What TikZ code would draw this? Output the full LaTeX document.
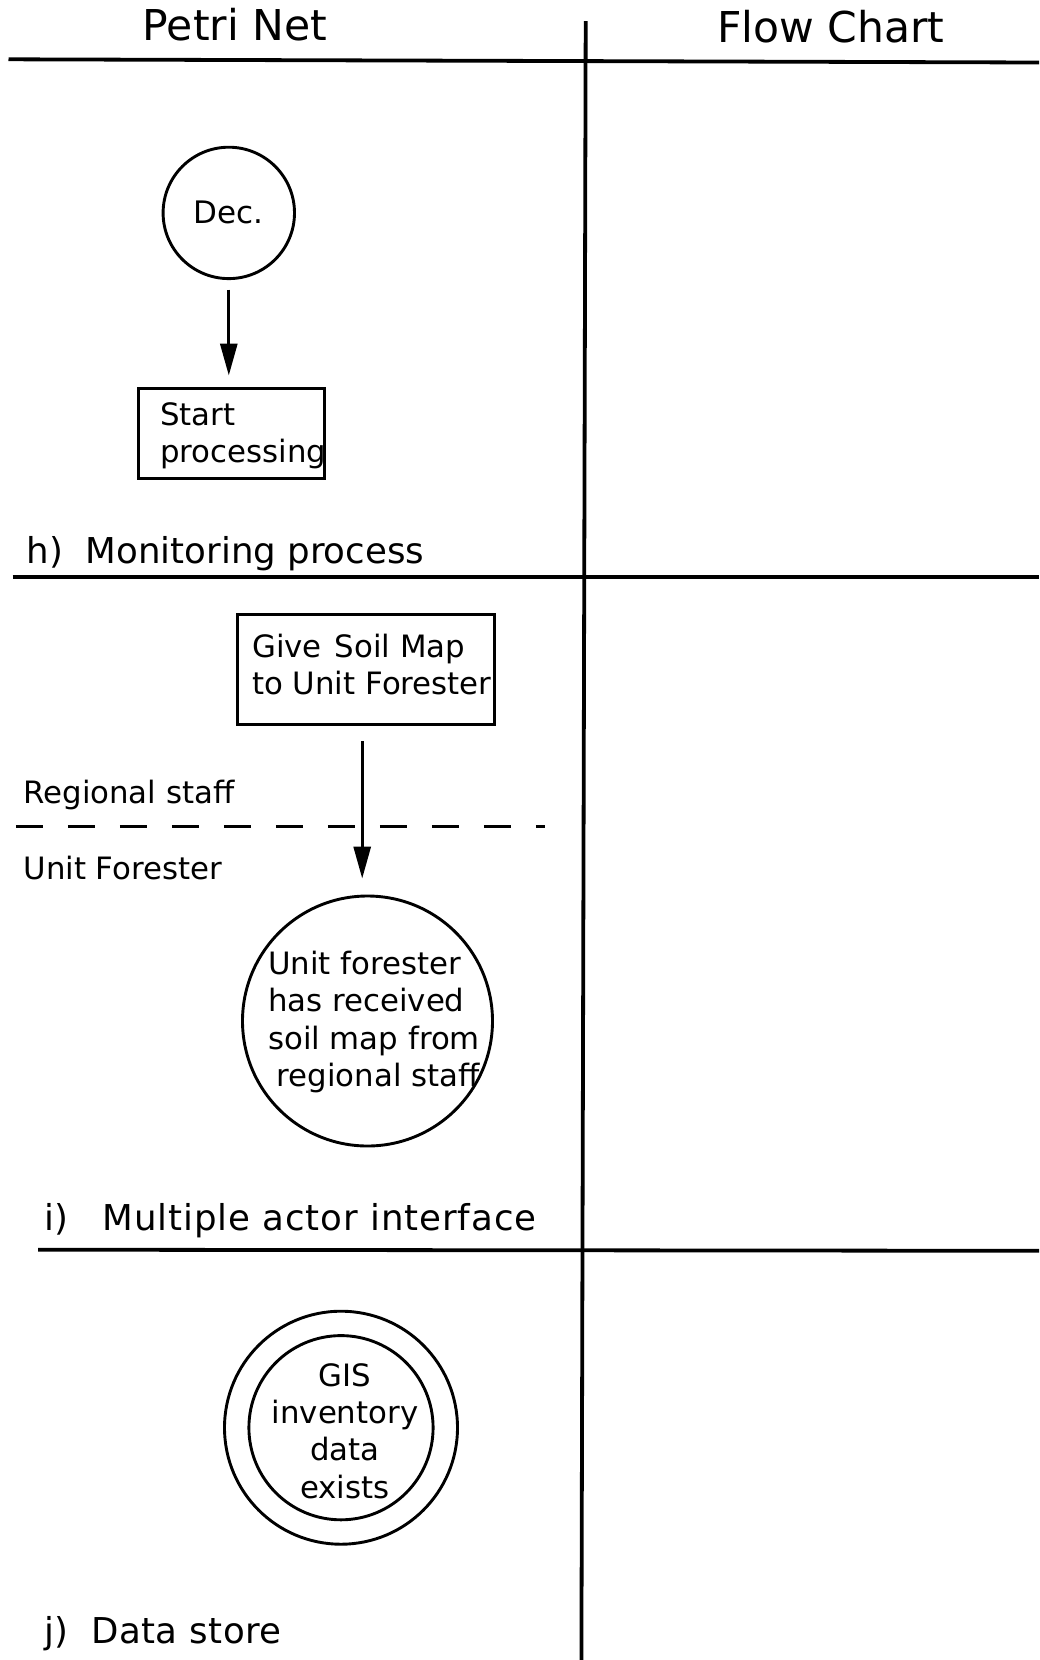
\documentclass[tikz,border=0pt]{standalone}
\usepackage{fontspec}
\setmainfont{DejaVu Sans}
\usetikzlibrary{arrows.meta}
\begin{document}
\begin{tikzpicture}[x=1pt,y=-1pt,
  rule/.style={line width=3.8pt},
  place/.style={circle, draw, line width=2.9pt, inner sep=0pt},
  transition/.style={draw, line width=3.2pt, inner sep=0pt},
  flow/.style={line width=3pt, -{Triangle[length=32pt,width=17pt]}},
  heading/.style={font=\fontsize{42.5}{50}\selectfont, inner sep=0pt, anchor=base},
  caption/.style={font=\fontsize{35.6}{42}\selectfont, inner sep=0pt, anchor=base west},
  label/.style={font=\fontsize{30.8}{37.4}\selectfont, inner sep=0pt, align=left, anchor=west},
  swimlane/.style={line width=3pt, dash pattern=on 27pt off 25pt},
]
\useasboundingbox (0,0) rectangle (1039,1660);

% column frame
\coordinate (topL) at (8.5,59.3);
\coordinate (topR) at (1039,62.5);
\coordinate (midT) at (585.7,21.2);
\coordinate (midB) at (581.4,1660);
\coordinate (hL) at (12.7,577.2);
\coordinate (hR) at (1039,577.2);
\coordinate (iL) at (38.1,1249.7);
\coordinate (iR) at (1039,1250.8);
\draw[rule] (topL) -- (topR);
\draw[rule] (midT) -- (midB);
\draw[rule] (hL) -- (hR);
\draw[rule] (iL) -- (iR);

\node[heading] (petri) at (235,40.2) {Petri Net};
\node[heading] (flowchart) at (831,42.4) {Flow Chart};

% h) monitoring process
\node[place, minimum size=131.4pt, font=\fontsize{31}{37}\selectfont] (dec) at (228.8,212.9) {Dec.};
\node[transition, minimum width=185.4pt, minimum height=90pt] (start) at (231.4,433.7) {};
\node[label] (starttext) at (159.9,435.6) {Start\\processing};
\draw[flow, shorten <=9.5pt, shorten >=11.6pt] (dec.south) -- (dec.south |- start.north);
\node[caption] (caph) at (26.5,563.4) {h)\ \ Monitoring process};

% i) multiple actor interface
\node[transition, minimum width=257.4pt, minimum height=110.1pt] (give) at (365.9,669.35) {};
\node[label] (givetext) at (252,664.4) {Give\hspace{0.42em}Soil Map\\to Unit Forester};
\node[place, minimum size=250pt] (uf) at (367.5,1021) {};
\node[label] (uftext) at (268,1021.8) {Unit forester\\has received\\soil map from\\\hspace*{8.5pt}regional staff};
\draw[flow, shorten <=15pt, shorten >=16pt] ([xshift=-3.7pt]give.south) -- ([xshift=-3.7pt]give.south |- uf.north);
\coordinate (laneL) at (15.9,826.1);
\coordinate (laneR) at (545.4,826.1);
\draw[swimlane] (laneL) -- (laneR);
\node[label, anchor=base west] (regional) at (23.3,803.3) {Regional staff};
\node[label, anchor=base west] (unitf) at (23.3,879) {Unit Forester};
\node[caption] (capi) at (44.5,1230.7) {i)\ \ \ \addfontfeatures{LetterSpace=2.6}Multiple actor interface};

% j) data store
\node[place, minimum size=233pt] (gisouter) at (341,1427.7) {};
\node[place, minimum size=184.2pt] (gis) at (341,1427.7) {};
\node[label, align=center, anchor=center] (gistext) at (345,1431) {GIS\\inventory\\data\\exists};
\node[caption] (capj) at (44.5,1643.7) {j)\ \ \addfontfeatures{LetterSpace=1.5}Data store};
\end{tikzpicture}
\end{document}
